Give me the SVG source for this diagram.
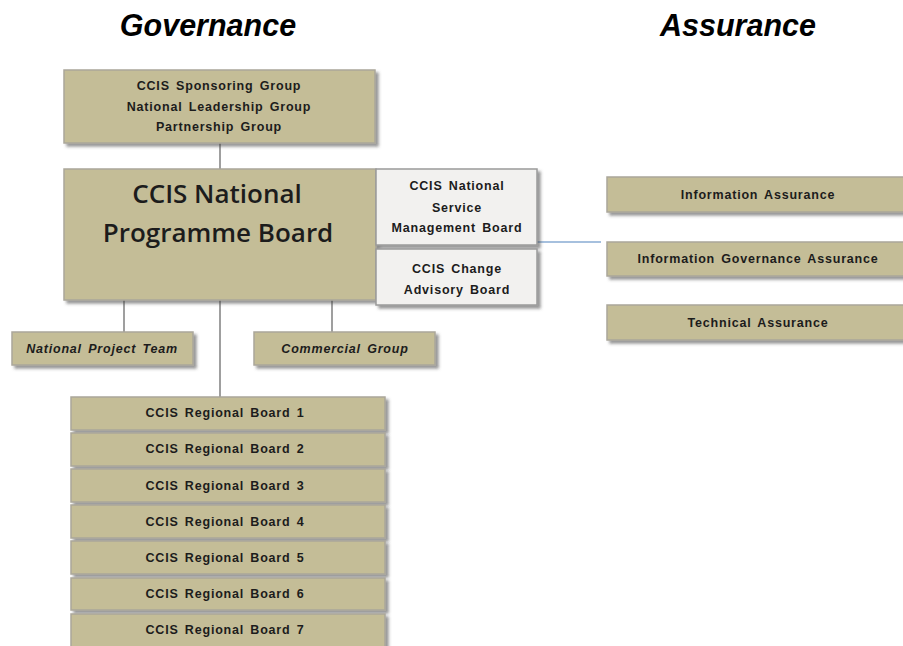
<svg xmlns="http://www.w3.org/2000/svg" width="903" height="646" viewBox="0 0 903 646">
  <defs>
    <filter id="shadow" x="-10%" y="-20%" width="130%" height="160%">
      <feDropShadow dx="3" dy="3" stdDeviation="1.5" flood-color="#444" flood-opacity="0.55"/>
    </filter>
    <style>
      .box { fill: #c4bd97; stroke: #aaa79a; stroke-width: 1.5; filter: url(#shadow); }
      .pale { fill: #f2f1ef; stroke: #9a9a9a; stroke-width: 1.5; filter: url(#shadow); }
      .lbl { font-family: "Liberation Sans", Arial, sans-serif; font-size: 12.5px; font-weight: bold; letter-spacing: 0.8px; word-spacing: 2px; fill: #1c1c1c; text-anchor: middle; }
      .ital { font-style: italic; }
      .big { font-family: "Open Sans", "Liberation Sans", sans-serif; font-size: 26px; font-weight: 600; fill: #1c1c1c; text-anchor: middle; }
      .title { font-family: "Liberation Sans", Arial, sans-serif; font-size: 30.5px; font-weight: bold; font-style: italic; fill: #000; text-anchor: middle; }
      .link { stroke: #7f7f7f; stroke-width: 1.5; fill: none; }
      .blue { stroke: #4f81bd; stroke-width: 1.2; fill: none; }
    </style>
  </defs>

  <rect width="903" height="646" fill="#fff"/>

  <text class="title" x="208" y="36">Governance</text>
  <text class="title" x="738" y="36">Assurance</text>

  <!-- connectors -->
  <g id="connectors">
    <line class="link" x1="220" y1="143" x2="220" y2="169"/>
    <line class="link" x1="220" y1="300" x2="220" y2="397"/>
    <line class="link" x1="124" y1="300" x2="124" y2="332"/>
    <line class="link" x1="332" y1="300" x2="332" y2="332"/>
    <line class="blue" x1="537" y1="242" x2="601" y2="242"/>
  </g>

  <g id="sponsoring">
    <rect class="box" x="64" y="70" width="311" height="73"/>
    <text class="lbl" x="219" y="90">CCIS Sponsoring Group</text>
    <text class="lbl" x="219" y="111">National Leadership Group</text>
    <text class="lbl" x="219" y="131">Partnership Group</text>
  </g>

  <g id="national-board">
    <rect class="box" x="64" y="169" width="312" height="131"/>
    <text class="big" x="217" y="203">CCIS National</text>
    <text class="big" x="218" y="242">Programme Board</text>
  </g>

  <g id="service-board">
    <rect class="pale" x="376" y="169" width="161" height="76"/>
    <text class="lbl" x="457" y="190">CCIS National</text>
    <text class="lbl" x="457" y="212">Service</text>
    <text class="lbl" x="457" y="232">Management Board</text>
  </g>

  <g id="change-board">
    <rect class="pale" x="376" y="249" width="161" height="56"/>
    <text class="lbl" x="457" y="273">CCIS Change</text>
    <text class="lbl" x="457" y="294">Advisory Board</text>
  </g>

  <g id="project-team">
    <rect class="box" x="12" y="332" width="181" height="33"/>
    <text class="lbl ital" x="102" y="353">National Project Team</text>
  </g>

  <g id="commercial">
    <rect class="box" x="254" y="332" width="181" height="33"/>
    <text class="lbl ital" x="345" y="353">Commercial Group</text>
  </g>

  <g id="info-assurance">
    <rect class="box" x="607" y="177" width="300" height="35"/>
    <text class="lbl" x="758" y="199">Information Assurance</text>
  </g>

  <g id="ig-assurance">
    <rect class="box" x="607" y="242" width="300" height="34"/>
    <text class="lbl" x="758" y="263">Information Governance Assurance</text>
  </g>

  <g id="tech-assurance">
    <rect class="box" x="607" y="305" width="300" height="35"/>
    <text class="lbl" x="758" y="327">Technical Assurance</text>
  </g>

  <g id="regional-1">
    <rect class="box" x="71" y="397" width="314" height="33"/>
    <text class="lbl" x="225" y="417">CCIS Regional Board 1</text>
  </g>
  <g id="regional-2">
    <rect class="box" x="71" y="433" width="314" height="33"/>
    <text class="lbl" x="225" y="453">CCIS Regional Board 2</text>
  </g>
  <g id="regional-3">
    <rect class="box" x="71" y="469" width="314" height="33"/>
    <text class="lbl" x="225" y="490">CCIS Regional Board 3</text>
  </g>
  <g id="regional-4">
    <rect class="box" x="71" y="505" width="314" height="33"/>
    <text class="lbl" x="225" y="526">CCIS Regional Board 4</text>
  </g>
  <g id="regional-5">
    <rect class="box" x="71" y="541" width="314" height="33"/>
    <text class="lbl" x="225" y="562">CCIS Regional Board 5</text>
  </g>
  <g id="regional-6">
    <rect class="box" x="71" y="578" width="314" height="32"/>
    <text class="lbl" x="225" y="598">CCIS Regional Board 6</text>
  </g>
  <g id="regional-7">
    <rect class="box" x="71" y="614" width="314" height="34"/>
    <text class="lbl" x="225" y="634">CCIS Regional Board 7</text>
  </g>
</svg>
